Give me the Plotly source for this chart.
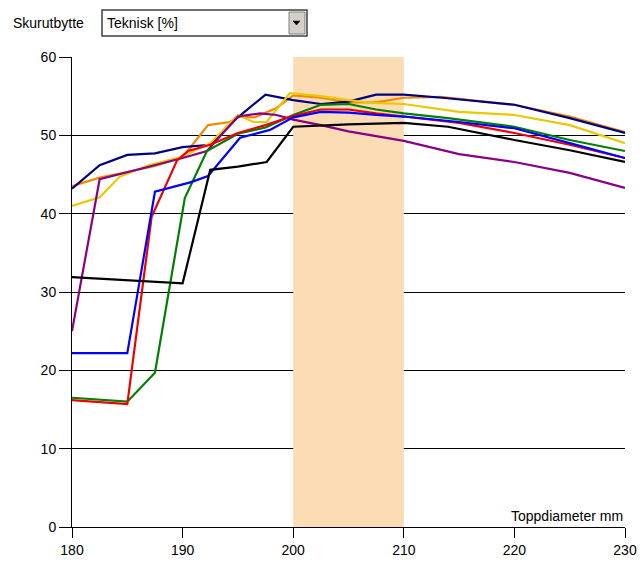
import plotly.graph_objects as go

# ---- data ----
x_ticks = [180, 190, 200, 210, 220, 230]
y_ticks = [0, 10, 20, 30, 40, 50, 60]

orange_x = [180, 182.5, 185, 187.5, 190, 191, 192.3, 194.3, 195, 196.5, 198.5, 200, 202.5, 205, 207.5, 210, 213.3, 220, 225, 230]
orange_y = [43.5, 44.6, 45.3, 46.1, 47.2, 49.0, 51.3, 51.7, 52.4, 52.3, 53.5, 55.1, 54.8, 54.2, 54.2, 54.8, 54.9, 53.9, 52.4, 50.4]

navy_x = [180, 182.5, 185, 187.5, 190, 192.5, 195, 197.5, 200, 202.5, 205, 207.5, 210, 213.5, 220, 225, 230]
navy_y = [43.2, 46.2, 47.5, 47.7, 48.5, 48.8, 52.3, 55.2, 54.5, 54.0, 54.3, 55.2, 55.2, 54.8, 53.9, 52.2, 50.3]

yellow_x = [180, 182.5, 184.3, 187, 190, 192.5, 195, 196.4, 197.6, 199.7, 202.5, 205, 207.5, 210, 215, 220, 225, 230]
yellow_y = [41.0, 42.1, 44.7, 46.2, 47.3, 49.0, 52.6, 51.7, 51.7, 55.4, 55.0, 54.5, 54.1, 54.0, 53.0, 52.6, 51.3, 49.0]

purple_x = [180, 182.5, 186.4, 190, 192.2, 195, 197, 198.5, 200, 202.5, 205, 210, 215, 220, 225, 230]
purple_y = [25.0, 44.4, 45.8, 47.1, 48.0, 52.4, 52.8, 52.6, 52.0, 51.3, 50.5, 49.3, 47.6, 46.6, 45.2, 43.3]

green_x = [180, 185, 187.5, 190.2, 192.2, 195, 197.5, 200, 202.5, 205, 207.5, 210, 214, 220, 225, 230]
green_y = [16.5, 16.0, 19.7, 42.0, 48.0, 50.2, 51.0, 52.6, 53.9, 54.0, 53.3, 52.8, 52.2, 51.1, 49.4, 48.0]

red_x = [180, 185, 187.2, 189.5, 190.5, 192.5, 195, 197.5, 200, 202.5, 205, 207.5, 210, 215, 220, 225, 230]
red_y = [16.2, 15.7, 39.6, 46.8, 48.0, 48.8, 50.3, 51.3, 52.5, 53.3, 53.3, 52.8, 52.4, 51.6, 50.3, 48.8, 47.1]

blue_x = [180, 185, 187.5, 190.7, 192.3, 195.2, 197.9, 200, 202.5, 205, 207.5, 210, 215, 220, 225, 230]
blue_y = [22.2, 22.2, 42.8, 44.0, 44.8, 49.7, 50.7, 52.3, 53.0, 52.9, 52.6, 52.4, 51.7, 50.9, 49.0, 47.1]

black_x = [180, 185, 190, 192.5, 195, 197.6, 200, 205, 210, 214, 220, 225, 230]
black_y = [31.9, 31.5, 31.1, 45.6, 46.0, 46.6, 51.1, 51.4, 51.6, 51.1, 49.4, 48.1, 46.6]

series = [
    ("orange", orange_x, orange_y, "#f28a00"),
    ("navy", navy_x, navy_y, "#000080"),
    ("yellow", yellow_x, yellow_y, "#ebc800"),
    ("purple", purple_x, purple_y, "#880088"),
    ("green", green_x, green_y, "#008000"),
    ("red", red_x, red_y, "#ee0000"),
    ("blue", blue_x, blue_y, "#0000ff"),
    ("black", black_x, black_y, "#000000"),
]

band_range = [200, 210]

fig = go.Figure()
for name, xs, ys, col in series:
    fig.add_trace(go.Scatter(x=xs, y=ys, mode="lines", name=name,
                             line=dict(color=col, width=2.2), showlegend=False,
                             hoverinfo="skip"))

fig.add_shape(type="rect", xref="x", yref="y", x0=band_range[0], x1=band_range[1],
              y0=0, y1=60, fillcolor="#fcdcb4", line=dict(width=0), layer="between")

W, H = 640, 561
L, R, T, B = 72, 15, 57, 34
pw, ph = W - L - R, H - T - B

def px(xp):
    return (xp - L) / pw

def py(yp):
    return (H - B - yp) / ph

FONT = "Liberation Sans, Arial"

# dropdown-like control
fig.add_shape(type="rect", xref="paper", yref="paper",
              x0=px(102), x1=px(307), y0=py(36), y1=py(10),
              fillcolor="white", line=dict(color="#404040", width=1.5))
fig.add_shape(type="rect", xref="paper", yref="paper",
              x0=px(289), x1=px(305), y0=py(34), y1=py(12),
              fillcolor="#d4d0c8", line=dict(color="#808080", width=1))
fig.add_shape(type="path", xref="paper", yref="paper",
              path=f"M {px(293)} {py(21)} L {px(300)} {py(21)} L {px(296.5)} {py(25)} Z",
              fillcolor="black", line=dict(color="black", width=0.5))

fig.add_annotation(x=px(11), y=py(23), xref="paper", yref="paper", text="Skurutbytte",
                   showarrow=False, xanchor="left", yanchor="middle",
                   font=dict(family=FONT, size=14, color="black"))
fig.add_annotation(x=px(105), y=py(23), xref="paper", yref="paper", text="Teknisk [%]",
                   showarrow=False, xanchor="left", yanchor="middle",
                   font=dict(family=FONT, size=14, color="black"))
fig.add_annotation(x=1, y=0, xref="paper", yref="paper", text="Toppdiameter mm",
                   showarrow=False, xanchor="right", yanchor="bottom", yshift=1,
                   font=dict(family=FONT, size=14, color="black"))

fig.update_layout(
    width=W, height=H,
    margin=dict(l=L, r=R, t=T, b=B, pad=0, autoexpand=False),
    paper_bgcolor="white", plot_bgcolor="white",
    font=dict(family=FONT, size=14, color="black"),
    xaxis=dict(range=[180, 230], tickvals=x_ticks, showgrid=False, zeroline=False,
               showline=True, linecolor="black", linewidth=1, automargin=False,
               ticks="outside", ticklen=10, tickcolor="black", tickwidth=1,
               fixedrange=True),
    yaxis=dict(range=[0, 60], tickvals=y_ticks, showgrid=True, gridcolor="black",
               gridwidth=1, zeroline=False, showline=True, linecolor="black",
               linewidth=1, automargin=False, ticks="outside", ticklen=12,
               tickcolor="black", tickwidth=1, fixedrange=True),
)

fig.write_html("out.html")
